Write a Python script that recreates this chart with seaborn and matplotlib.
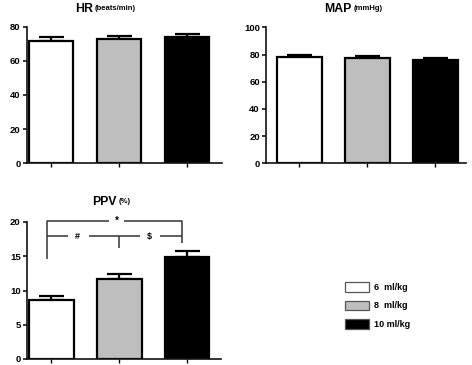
import matplotlib
matplotlib.use("Agg")
import matplotlib.pyplot as plt
import seaborn as sns
import pandas as pd
from matplotlib.patches import Patch

sns.set_theme(style="ticks")
plt.rcParams['font.family'] = ['Liberation Sans', 'DejaVu Sans']
plt.rcParams['font.weight'] = 'bold'
plt.rcParams['text.color'] = 'black'
plt.rcParams['xtick.color'] = 'black'
plt.rcParams['ytick.color'] = 'black'
plt.rcParams['axes.edgecolor'] = 'black'

groups = ["6  ml/kg", "8  ml/kg", "10 ml/kg"]
colors = ["#FFFFFF", "#BEBEBE", "#000000"]

hr_mean = [72.0, 72.8, 74.0]
hr_err = [1.9, 1.7, 1.9]
map_mean = [78.2, 77.4, 76.2]
map_err = [1.4, 1.5, 1.0]
ppv_mean = [8.6, 11.7, 14.9]
ppv_err = [0.55, 0.7, 0.9]

hr_ticks = [0, 20, 40, 60, 80]
map_ticks = [0, 20, 40, 60, 80, 100]
ppv_ticks = [0, 5, 10, 15, 20]

W, H = 472, 365
fig = plt.figure(figsize=(W / 100, H / 100), dpi=100)


def px_axes(x0, x1, ytop, ybot):
    return fig.add_axes([x0 / W, 1 - ybot / H, (x1 - x0) / W, (ybot - ytop) / H])


def panel(ax, means, errs, ticks, xlim):
    df = pd.DataFrame({"group": groups, "value": means})
    sns.barplot(data=df, x="group", y="value", hue="group", palette=colors,
                order=groups, hue_order=groups, legend=False, errorbar=None,
                width=0.66, edgecolor="black", linewidth=1.6, ax=ax, zorder=2)
    ax.errorbar(range(len(groups)), means, yerr=[[0] * len(errs), errs],
                fmt="none", ecolor="black", elinewidth=1.6, capsize=9,
                capthick=1.6, zorder=1)
    ax.set_ylim(ticks[0], ticks[-1])
    ax.set_yticks(ticks)
    ax.set_xlim(*xlim)
    ax.set_xticks(range(len(groups)))
    ax.set_xticklabels([])
    ax.set_xlabel("")
    ax.set_ylabel("")
    sns.despine(ax=ax)
    for s in ["left", "bottom"]:
        ax.spines[s].set_linewidth(1.2)
        ax.spines[s].set_color("#111111")
    ax.tick_params(axis="y", length=3, width=1.1, labelsize=6.8, pad=1.5,
                   colors="black")
    ax.tick_params(axis="x", length=3, width=1.0, colors="black")
    for lab in ax.get_yticklabels():
        lab.set_fontweight("bold")
    ax.set_facecolor("none")


ax1 = px_axes(27, 222, 27, 163)
panel(ax1, hr_mean, hr_err, hr_ticks, (-0.353, 2.515))
ax2 = px_axes(266, 466, 27.3, 163.3)
panel(ax2, map_mean, map_err, map_ticks, (-0.49, 2.45))
ax3 = px_axes(27, 221, 222, 359)
panel(ax3, ppv_mean, ppv_err, ppv_ticks, (-0.36, 2.5))


def title(xsplit, y, main, unit):
    fig.text(xsplit / W, 1 - y / H, main, ha="right", va="center",
             fontsize=8.8, fontweight="bold", color="black")
    fig.text((xsplit + 2) / W, 1 - y / H, unit, ha="left", va="center",
             fontsize=5.5, fontweight="bold", color="black")


title(92.5, 8.5, "HR", "(beats/min)")
title(351.5, 8.5, "MAP", "(mmHg)")
title(116.5, 202, "PPV", "(%)")

# significance brackets on PPV panel
lk = dict(color="#333333", lw=1.1, clip_on=False, solid_capstyle="butt")
xl, xr = -0.07, 1.93
ytop, ymid = 20.1, 17.9
ax3.plot([xl, xl, 0.85], [14.6, ytop, ytop], **lk)
ax3.plot([1.07, xr, xr], [ytop, ytop, 16.9], **lk)
ax3.text(0.96, ytop, "*", ha="center", va="center", fontsize=7, fontweight="bold")
ax3.plot([xl, 0.24], [ymid, ymid], **lk)
ax3.plot([0.556, 1.30], [ymid, ymid], **lk)
ax3.plot([1.60, xr], [ymid, ymid], **lk)
ax3.plot([1.0, 1.0], [ymid, 16.2], **lk)
ax3.text(0.375, ymid, "#", ha="center", va="center", fontsize=6.5, fontweight="bold")
ax3.text(1.45, ymid, "$", ha="center", va="center", fontsize=6.5, fontweight="bold")

handles = [Patch(facecolor=c, edgecolor="#555555", linewidth=0.9) for c in colors]
leg = fig.legend(handles, groups, loc="upper left",
                 bbox_to_anchor=(345 / W, 1 - 282 / H), frameon=False,
                 borderpad=0, borderaxespad=0, handlelength=2.67,
                 handleheight=1.3, labelspacing=0.95, handletextpad=0.55,
                 prop=dict(size=6.5, weight="bold"))
for t in leg.get_texts():
    t.set_color("black")

fig.savefig("out.png", dpi=100)
